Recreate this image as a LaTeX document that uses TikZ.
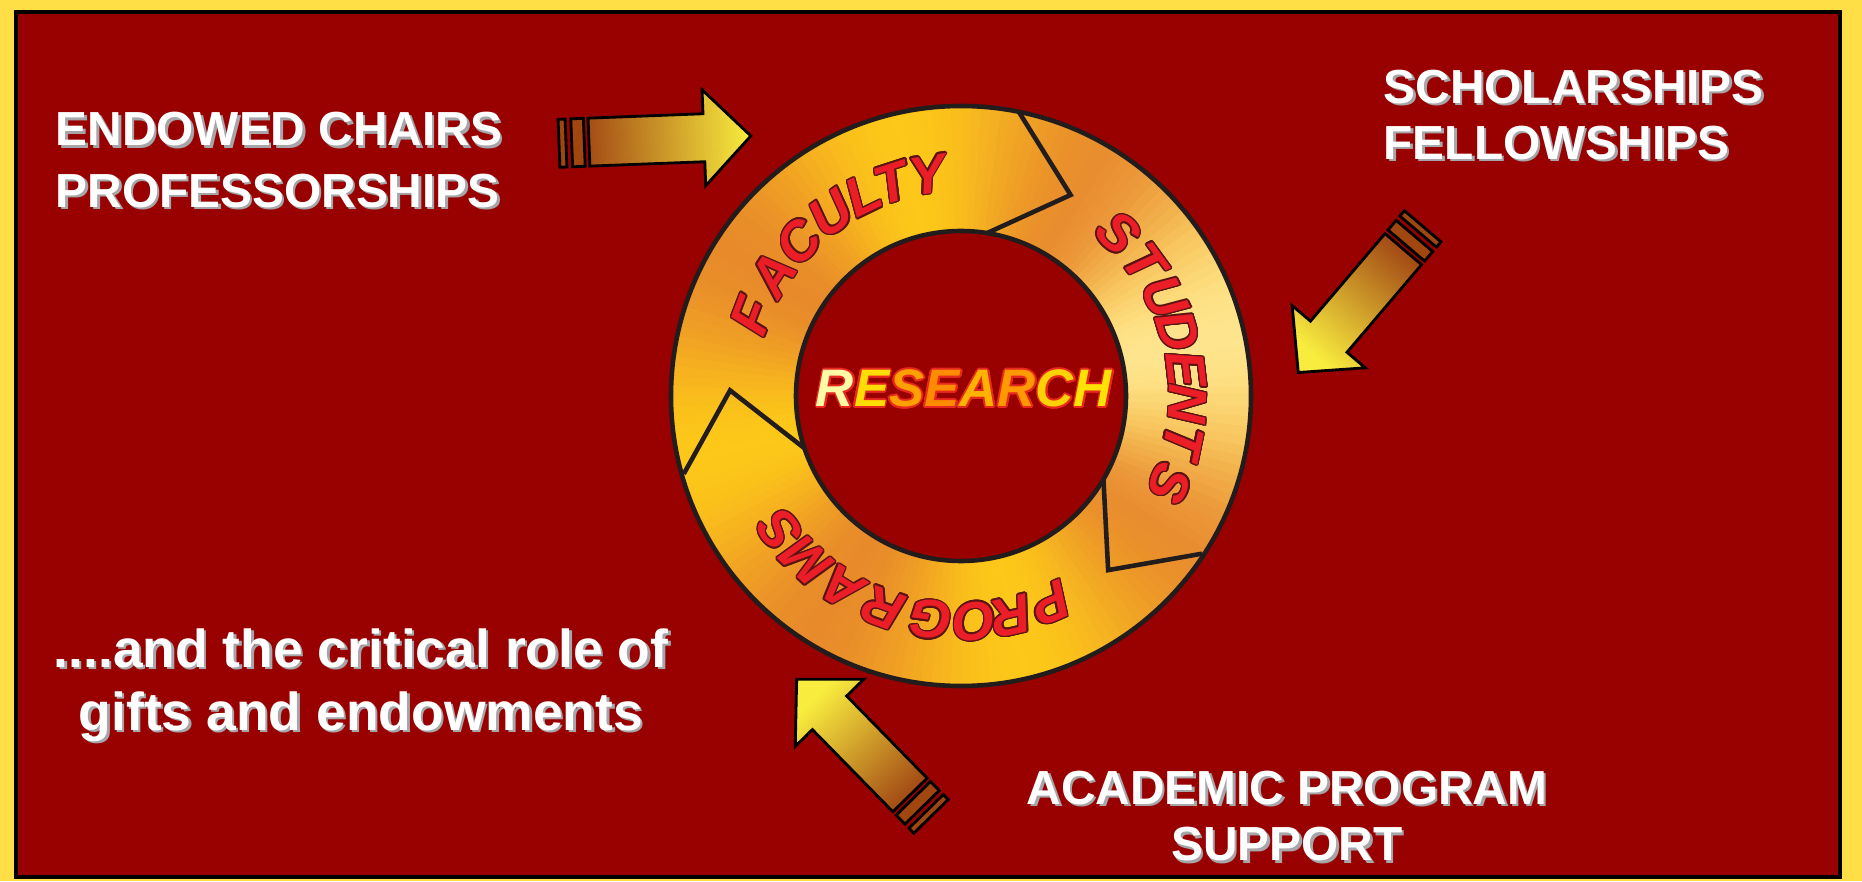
\documentclass[tikz,border=0pt]{standalone}
\usepackage{fontspec}
\setmainfont{Liberation Sans}
\usepackage[copies]{contour}
\usepackage{tikz}
\usetikzlibrary{positioning}

\definecolor{framegold}{RGB}{255,222,70}
\definecolor{boardred}{RGB}{153,0,0}
\definecolor{ringgold}{RGB}{253,200,25}
\definecolor{ringorange}{RGB}{232,138,42}
\definecolor{ringcream}{RGB}{255,240,190}
\definecolor{ringrim}{RGB}{35,28,28}
\definecolor{wordred}{RGB}{235,30,40}
\definecolor{wordrim}{RGB}{90,20,20}
\definecolor{researchrim}{RGB}{232,40,30}
\definecolor{arrowbrown}{RGB}{165,78,22}
\definecolor{arrowgold}{RGB}{214,178,48}
\definecolor{arrowyellow}{RGB}{248,236,62}
\definecolor{stripebrown}{RGB}{160,70,14}
\definecolor{shadowgrey}{RGB}{165,165,170}

\contournumber{16}
\contourlength{0.4pt}

\begin{document}
\begin{tikzpicture}[x=0.01cm, y=0.01cm]

		% --- styles ---
		\tikzset{
			heading/.style={text=white, inner sep=0pt, font=\bfseries\fontsize{13.6}{#1}\selectfont},
			heading/.default=16.5,
			ringword/.style={inner sep=0pt, text=wordred, font=\bfseries\itshape\fontsize{15.5}{15.5}\selectfont},
			ringline/.style={draw=ringrim, line width=1.3pt},
			stripe/.style={fill=stripebrown, draw=black, line width=0.8pt},
			arrowbody/.style={bottom color=arrowbrown, middle color=arrowgold, top color=arrowyellow, draw=black, line width=0.8pt}
		}
		
		% white text with a grey drop shadow
		\newcommand{\shadowed}[1]{\makebox[0pt][l]{\hspace{0.7pt}\raisebox{-0.7pt}{\textcolor{shadowgrey}{#1}}}#1}
		% one letter of the centre word
		\newcommand{\rl}[2]{\textcolor{#1}{\contour{researchrim}{#2}}}
		
		% --- block arrow with two stripes at the tail ---
		% #1 tail point, #2 heading, #3 shading angle
		\newcommand{\giftarrow}[3]{
			\begin{scope}[shift={#1}, rotate=#2]
				\filldraw[stripe] (0,-24) rectangle (7,24);
				\filldraw[stripe] (12.7,-24) rectangle (25.3,24);
				\shadedraw[arrowbody, shading angle=#3] (30,-24) -- (145,-24) -- (145,-48) -- (192,0)
					-- (145,48) -- (145,24) -- (30,24) -- cycle;
			\end{scope}
		}
		
		% Board
		\path[use as bounding box, fill=framegold] (0,0) rectangle (1862,881);
		\filldraw[fill=boardred, draw=black, line width=0.9pt] (16,4) rectangle (1840,869);
		
		% --- ring ---
		\begin{scope}[shift={(961,485)}]
			\begin{scope}
				\clip (0,0) circle[radius=290];
				\foreach \a in {0,2,...,358}{
					\pgfmathtruncatemacro{\p}{50+50*cos(4*(\a-12))}
					\pgfmathsetmacro{\c}{max(0,cos(\a-12))}
					\pgfmathtruncatemacro{\h}{100-70*\c^8}
					\fill[ringgold!\p!ringorange!\h!ringcream] (0,0) -- (\a:300)
						arc[start angle=\a, end angle=\a+2.6, radius=300] -- cycle;
				}
			\end{scope}
			\fill[boardred] (0,0) circle[radius=165];
			\draw[ringline] (0,0) circle[radius=290];
			\draw[ringline] (0,0) circle[radius=165];
			
			% arrow heads between the three parts
			\draw[ringline] (78.5:290) -- (61.4:229) -- (80.9:165);
			\draw[ringline] (-33.2:288) -- (-49.8:228) -- (-30.3:165);
			\draw[ringline] (195.7:288) -- (178.6:231) -- (198.5:165);
			
			% words round the ring
			\foreach \ch/\a [count=\i] in {F/159,A/147.2,C/136.5,U/125.5,L/115.9,T/108,Y/98.7}
				\node[ringword, rotate=\a-90] (faculty-\i) at (\a:223) {\contour{wordrim}{\ch}};
			\foreach \ch/\a [count=\i] in {S/46,T/36.1,U/25.9,D/16.7,E/6.7,N/-2,T/-11.5,S/-22.6}
				\node[ringword, rotate=\a-90] (students-\i) at (\a:226) {\contour{wordrim}{\ch}};
			\foreach \ch/\a [count=\i] in {P/-66.5,R/-77,O/-86.5,G/-97.7,R/-110,A/-121.7,M/-133,S/-143.5}
				\node[ringword, rotate=\a-90] (programs-\i) at (\a:225) {\contour{wordrim}{\ch}};
		\end{scope}
		
		% centre word
		\node[anchor=base, inner sep=0pt, font=\bfseries\itshape\fontsize{15}{15}\selectfont] (research) at (964,474.3)
			{\contourlength{0.5pt}\rl{yellow!35!white}{R}\rl{yellow!80!orange}{E}\rl{orange!75!yellow}{S}\rl{orange!90!yellow}{E}\rl{orange!60!yellow}{A}\rl{orange!80!yellow}{R}\rl{yellow!70!orange}{C}\rl{yellow!85!orange}{H}};
		
		% --- incoming arrows ---
		\giftarrow{(559,737.7)}{2.2}{-87.8}
		\giftarrow{(1422.7,654.7)}{229.6}{139.6}
		\giftarrow{(931,64.6)}{134.4}{44.4}
		
		% --- headings ---
		\node[heading=17.5, align=left, anchor=north west] (chairs) at (55,769.3)
			{\shadowed{ENDOWED CHAIRS}\\\shadowed{PROFESSORSHIPS}};
		\node[heading=15.9, align=left, anchor=north west] (awards) at (1383,811.7)
			{\shadowed{SCHOLARSHIPS}\\\shadowed{FELLOWSHIPS}};
		\node[heading=16.1, align=center, anchor=north] (support) at (1287,111)
			{\shadowed{ACADEMIC PROGRAM}\\\shadowed{SUPPORT}};
		\node[heading, font=\bfseries\fontsize{15.2}{18}\selectfont, align=center, anchor=north] (gifts) at (361,253.3)
			{\shadowed{....and the critical role of}\\\shadowed{gifts and endowments}};
		
	\end{tikzpicture}
\end{document}
